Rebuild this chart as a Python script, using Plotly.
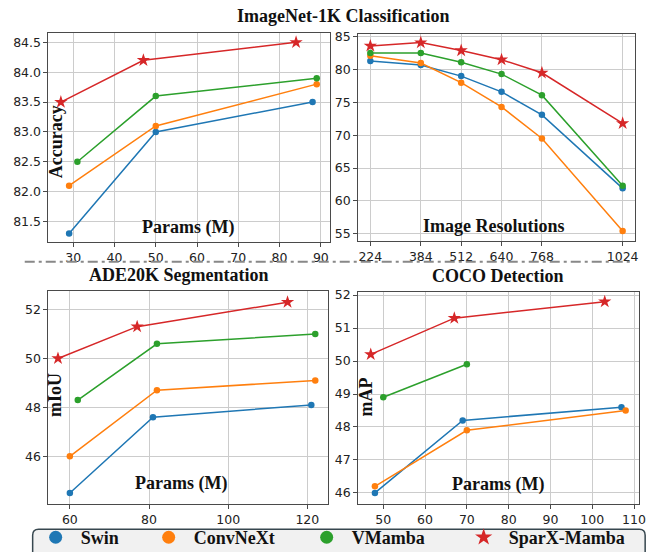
import plotly.graph_objects as go

W, H = 667, 552
FIG_H = 560  # a few px taller than the window so the legend frame runs off the bottom edge

# ---------------- data ----------------
series_names = ["Swin", "ConvNeXt", "VMamba", "SparX-Mamba"]
colors = ["#1f77b4", "#ff7f0e", "#2ca02c", "#d62728"]
symbols = ["circle", "circle", "circle", "star"]

# ImageNet-1K: accuracy vs params
in1k_x = {
    "Swin": [29, 50, 88],
    "ConvNeXt": [29, 50, 89],
    "VMamba": [31, 50, 89],
    "SparX-Mamba": [27, 47, 84],
}
in1k_y = {
    "Swin": [81.3, 83.0, 83.5],
    "ConvNeXt": [82.1, 83.1, 83.8],
    "VMamba": [82.5, 83.6, 83.9],
    "SparX-Mamba": [83.5, 84.2, 84.5],
}

# ImageNet-1K: accuracy vs image resolution
resolutions = [224, 384, 512, 640, 768, 1024]
res_y = {
    "Swin": [81.3, 80.7, 79.0, 76.6, 73.1, 61.9],
    "ConvNeXt": [82.1, 81.0, 78.0, 74.3, 69.5, 55.4],
    "VMamba": [82.5, 82.5, 81.1, 79.3, 76.1, 62.3],
    "SparX-Mamba": [83.6, 84.1, 82.9, 81.5, 79.5, 71.8],
}

# ADE20K segmentation
ade_x = {
    "Swin": [60, 81, 121],
    "ConvNeXt": [60, 82, 122],
    "VMamba": [62, 82, 122],
    "SparX-Mamba": [57, 77, 115],
}
ade_y = {
    "Swin": [44.5, 47.6, 48.1],
    "ConvNeXt": [46.0, 48.7, 49.1],
    "VMamba": [48.3, 50.6, 51.0],
    "SparX-Mamba": [50.0, 51.3, 52.3],
}

# COCO detection
coco_x = {
    "Swin": [48, 69, 107],
    "ConvNeXt": [48, 70, 108],
    "VMamba": [50, 70],
    "SparX-Mamba": [47, 67, 103],
}
coco_y = {
    "Swin": [46.0, 48.2, 48.6],
    "ConvNeXt": [46.2, 47.9, 48.5],
    "VMamba": [48.9, 49.9],
    "SparX-Mamba": [50.2, 51.3, 51.8],
}

# ---------------- helpers ----------------
def px(x):
    return x / W

def py(y):
    return 1 - y / FIG_H

SERIF = "Liberation Serif"
SANS = "DejaVu Sans"

fig = go.Figure()

panels = [
    ("x", "y", in1k_x, in1k_y),
    ("x2", "y2", {k: resolutions for k in series_names}, res_y),
    ("x3", "y3", ade_x, ade_y),
    ("x4", "y4", coco_x, coco_y),
]

for xa, ya, xs, ys in panels:
    for name, c, s in zip(series_names, colors, symbols):
        fig.add_trace(go.Scatter(
            x=xs[name], y=ys[name], mode="lines+markers",
            xaxis=xa, yaxis=ya, showlegend=False, name=name,
            line=dict(color=c, width=1.5),
            marker=dict(color=c, symbol=s, size=10 if s == "star" else 6.5,
                        line=dict(width=0)),
        ))

# legend-only traces
legend_widths = [58, 103, 102, 0]
for name, c, s, lw in zip(series_names, colors, symbols, legend_widths):
    kw = {}
    if lw:
        kw["legendwidth"] = lw
    fig.add_trace(go.Scatter(
        x=[None], y=[None], mode="markers", name=name, xaxis="x", yaxis="y",
        marker=dict(color=c, symbol=s, size=13, line=dict(width=0)),
        showlegend=True, **kw,
    ))

axis_common = dict(
    showline=True, mirror=True, linecolor="#4a4a4a", linewidth=1,
    ticks="outside", ticklen=4, tickcolor="#4a4a4a", tickwidth=1,
    showgrid=True, gridcolor="#cccccc", gridwidth=1, zeroline=False,
    tickfont=dict(family=SANS, size=12.5, color="#222222"),
)

fig.update_layout(
    width=W, height=FIG_H,
    margin=dict(l=0, r=0, t=0, b=0),
    paper_bgcolor="white", plot_bgcolor="white",
    xaxis=dict(domain=[px(49), px(333)], range=[24, 92.1],
               tickvals=[30, 40, 50, 60, 70, 80, 90], anchor="y", **axis_common),
    yaxis=dict(domain=[py(239), py(28)], range=[81.16, 84.66],
               tickvals=[81.5, 82.0, 82.5, 83.0, 83.5, 84.0, 84.5],
               tickformat=".1f", anchor="x", **axis_common),
    xaxis2=dict(domain=[px(362), px(642)], range=[185.5, 1064],
                tickvals=resolutions, anchor="y2", **axis_common),
    yaxis2=dict(domain=[py(238), py(29)], range=[53.9, 85.45],
                tickvals=[55, 60, 65, 70, 75, 80, 85], anchor="x2", **axis_common),
    xaxis3=dict(domain=[px(49), px(331)], range=[54.6, 125.1],
                tickvals=[60, 80, 100, 120], anchor="y3", **axis_common),
    yaxis3=dict(domain=[py(503), py(289)], range=[44.07, 52.74],
                tickvals=[46, 48, 50, 52], anchor="x3", **axis_common),
    xaxis4=dict(domain=[px(362), px(646)], range=[44.0, 111.25],
                tickvals=[50, 60, 70, 80, 90, 100, 110], anchor="y4", **axis_common),
    yaxis4=dict(domain=[py(503), py(290)], range=[45.68, 52.08],
                tickvals=[46, 47, 48, 49, 50, 51, 52], anchor="x4", **axis_common),
    legend=dict(
        orientation="h", x=px(31), xanchor="left", y=py(556), yanchor="bottom",
        bgcolor="rgba(0,0,0,0)", borderwidth=0, itemwidth=40,
        font=dict(family=SERIF, size=18, color="#111111", weight="bold"),
    ),
)

# text annotations (titles and in-plot axis labels)
def label(text, x, y, angle=0, size=18):
    fig.add_annotation(
        text=text, x=px(x), y=py(y), xref="paper", yref="paper",
        showarrow=False, textangle=angle, xanchor="center", yanchor="middle",
        font=dict(family=SERIF, size=size, color="#111111", weight="bold"),
    )

label("ImageNet-1K Classification", 347, 11)
label("ADE20K Segmentation", 181, 272)
label("COCO Detection", 503, 273)
label("Accuracy", 56, 138, angle=-90)
label("Params (M)", 190, 225)
label("Image Resolutions", 499, 223)
label("mIoU", 56, 393, angle=-90)
label("Params (M)", 183, 483)
label("mAP", 370, 396, angle=-90)
label("Params (M)", 503, 484)

# dash-dot separator
fig.add_shape(type="line", xref="paper", yref="paper",
              x0=px(25), x1=px(640), y0=py(259), y1=py(259),
              line=dict(color="#888888", width=2, dash="10px,4px,3px,4px"))

# rounded legend frame
def rounded_rect(x0, y0, x1, y1, r):
    def P(x, y):
        return f"{px(x):.5f},{py(y):.5f}"
    return (
        f"M {P(x0 + r, y0)} L {P(x1 - r, y0)} Q {P(x1, y0)} {P(x1, y0 + r)} "
        f"L {P(x1, y1 - r)} Q {P(x1, y1)} {P(x1 - r, y1)} "
        f"L {P(x0 + r, y1)} Q {P(x0, y1)} {P(x0, y1 - r)} "
        f"L {P(x0, y0 + r)} Q {P(x0, y0)} {P(x0 + r, y0)} Z"
    )

fig.add_shape(type="path", xref="paper", yref="paper",
              path=rounded_rect(33, 529, 652, 566, 6),
              fillcolor="#f1f1f1", line=dict(color="#37474f", width=1.5),
              layer="below")

fig.write_html("out.html", config={"displayModeBar": False},
               post_script="document.body.style.margin='0px';document.body.style.overflow='hidden';")
